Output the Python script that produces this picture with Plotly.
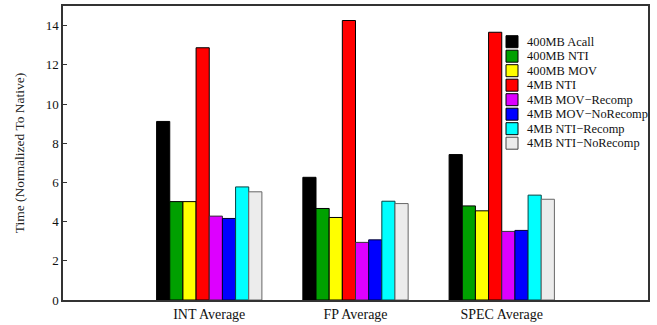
import plotly.graph_objects as go

categories = ["INT Average", "FP Average", "SPEC Average"]
cat_pos = [1, 2, 3]

series_names = ["400MB Acall", "400MB NTI", "400MB MOV", "4MB NTI",
                "4MB MOV\u2212Recomp", "4MB MOV\u2212NoRecomp",
                "4MB NTI\u2212Recomp", "4MB NTI\u2212NoRecomp"]

acall_400 = [9.11, 6.26, 7.42]
nti_400 = [5.02, 4.67, 4.80]
mov_400 = [5.02, 4.21, 4.55]
nti_4 = [12.87, 14.26, 13.66]
mov_recomp_4 = [4.28, 2.94, 3.50]
mov_norecomp_4 = [4.16, 3.07, 3.55]
nti_recomp_4 = [5.77, 5.04, 5.35]
nti_norecomp_4 = [5.52, 4.92, 5.14]

values = [acall_400, nti_400, mov_400, nti_4, mov_recomp_4,
          mov_norecomp_4, nti_recomp_4, nti_norecomp_4]
colors = ["#000000", "#00a000", "#ffff00", "#ff0000", "#dd00ff",
          "#0000ff", "#00ffff", "#ececec"]
line_colors = ["#000000", "#000000", "#000000", "#000000", "#333333",
               "#000033", "#004444", "#666666"]

yticks = [0, 2, 4, 6, 8, 10, 12, 14]

font = "Liberation Serif, Times New Roman, serif"

W, H = 657, 325
ML, MR, MT, MB = 63, 9, 6, 25
PW, PH = W - ML - MR, H - MT - MB

fig = go.Figure()
for name, vals, c, lc in zip(series_names, values, colors, line_colors):
    fig.add_trace(go.Bar(x=cat_pos, y=vals, name=name, showlegend=False,
                         marker=dict(color=c, line=dict(color=lc, width=1))))

# Compact legend drawn with shapes + annotations (matches reference spacing)
sw_x0, sw_x1 = 506, 518
text_x = 525
row0, row_step = 41.7, 14.5
for i, (name, c, lc) in enumerate(zip(series_names, colors, line_colors)):
    yc = row0 + i * row_step
    fig.add_shape(type="rect", xref="paper", yref="paper",
                  x0=(sw_x0 - ML) / PW, x1=(sw_x1 - ML) / PW,
                  y0=(H - MB - (yc + 6)) / PH, y1=(H - MB - (yc - 6)) / PH,
                  fillcolor=c, line=dict(color="#000000" if i < 7 else "#444", width=1))
    fig.add_annotation(xref="paper", yref="paper",
                       x=(text_x - ML) / PW, y=(H - MB - yc) / PH,
                       xanchor="left", yanchor="middle", showarrow=False,
                       text=name, xshift=0,
                       font=dict(family=font, size=12.4, color="#111"))

fig.update_layout(
    width=W, height=H,
    margin=dict(l=ML, r=MR, t=MT, b=MB, autoexpand=False),
    barmode="group", bargap=0.28, bargroupgap=0,
    plot_bgcolor="white", paper_bgcolor="white",
    font=dict(family=font, size=12, color="#222"),
    showlegend=False,
    xaxis=dict(range=[0, 4], tickvals=cat_pos, ticktext=categories,
               showgrid=False, zeroline=False, showline=True,
               linecolor="#333", linewidth=1.5, mirror=True, ticks="",
               tickfont=dict(family=font, size=14, color="#111")),
    yaxis=dict(range=[0, 15], tickvals=yticks, showgrid=False,
               zeroline=False, showline=True, linecolor="#333", linewidth=1.5,
               mirror=True, ticks="inside", ticklen=4, tickcolor="#333",
               title=dict(text="Time (Normalized To Native)",
                          font=dict(family=font, size=13.5, color="#222"),
                          standoff=18),
               tickfont=dict(family=font, size=13, color="#111")),
)

fig.write_html("out.html", config={"displayModeBar": False},
               post_script="document.body.style.margin='0';document.body.style.overflow='hidden';")
